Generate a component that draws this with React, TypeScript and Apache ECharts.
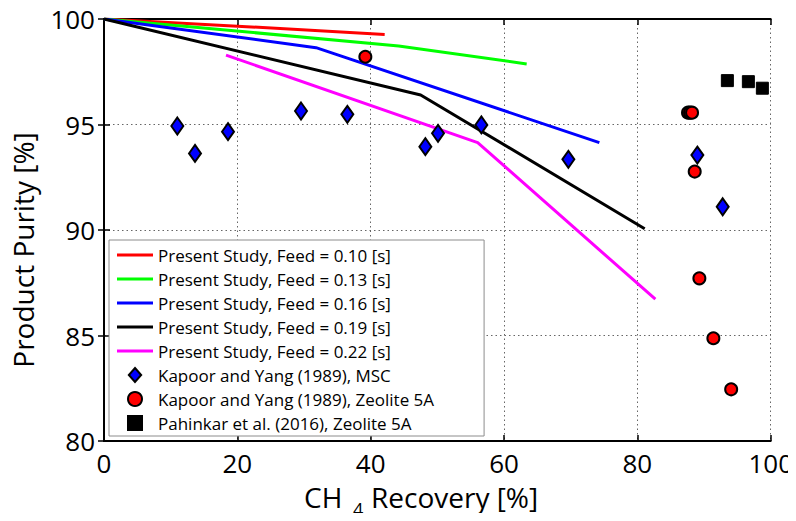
import React, { useEffect, useRef } from "react";
import * as echarts from "echarts";

// ---- data (CH4 recovery [%], product purity [%]) ----
const xTicks = [0, 20, 40, 60, 80, 100];
const yTicks = [80, 85, 90, 95, 100];

const feed010 = [[0, 100], [20, 99.66], [42.1, 99.27]];
const feed013 = [[0, 100], [19.9, 99.43], [44.2, 98.72], [63.4, 97.87]];
const feed016 = [[0, 100], [31.8, 98.64], [74.3, 94.14]];
const feed019 = [[0, 100], [47.5, 96.4], [81.1, 90.06]];
const feed022 = [[18.3, 98.29], [56.05, 94.14], [82.7, 86.72]];

const kapoorMSC = [
  [11.0, 94.93], [13.65, 93.63], [18.6, 94.66], [29.55, 95.64], [36.5, 95.48],
  [48.2, 93.95], [50.1, 94.58], [56.6, 94.98], [69.65, 93.35], [89.0, 93.55], [92.8, 91.1],
];
const kapoorZeolite = [
  [39.2, 98.21], [87.6, 95.56], [87.9, 95.56], [88.2, 95.56], [88.6, 92.77],
  [89.3, 87.71], [91.4, 84.87], [94.07, 82.45],
];
const pahinkar = [[93.5, 97.08], [96.65, 97.03], [98.75, 96.72]];

const lineNames = [
  "Present Study, Feed = 0.10 [s]",
  "Present Study, Feed = 0.13 [s]",
  "Present Study, Feed = 0.16 [s]",
  "Present Study, Feed = 0.19 [s]",
  "Present Study, Feed = 0.22 [s]",
];
const lineData = [feed010, feed013, feed016, feed019, feed022];
const lineColors = ["#ff0000", "#00ff00", "#0000ff", "#000000", "#ff00ff"];
const scatterNames = [
  "Kapoor and Yang (1989), MSC",
  "Kapoor and Yang (1989), Zeolite 5A",
  "Pahinkar et al. (2016), Zeolite 5A",
];

const FONT = "'Open Sans', 'Noto Sans', sans-serif";

const ICON_LINE = "path://M0,0H36V3H0Z";
const ICON_DIAMOND = "path://M7.5,0L15,8.5L7.5,17L0,8.5Z";
const ICON_CIRCLE = "circle";
const ICON_SQUARE = "path://M0,0H10V10H0Z";

export default function App() {
  const ref = useRef<HTMLDivElement>(null);

  useEffect(() => {
    if (!ref.current) return;
    const chart = echarts.init(ref.current, undefined, { renderer: "svg" });

    const axisLine = { lineStyle: { color: "#000", width: 2 } };
    const axisTick = { inside: true, length: 6, lineStyle: { color: "#000", width: 1.5 } };
    const split = { show: true, lineStyle: { type: [1.5, 3], color: "#666", width: 1 } };
    const label = { fontSize: 26, fontFamily: FONT, color: "#000", lineHeight: 24 };

    const lineSeries = lineNames.map((name, i) => ({
      name,
      type: "line",
      data: lineData[i],
      symbol: "none",
      lineStyle: { color: lineColors[i], width: 3 },
      itemStyle: { color: lineColors[i] },
      z: 2,
    }));

    chart.setOption({
      animation: false,
      grid: { left: 104, top: 19, right: 23, bottom: 80 },
      xAxis: [
        {
          type: "value", min: 0, max: 100, interval: 20, position: "bottom",
          axisLine, axisTick, axisLabel: { ...label, margin: 10 }, splitLine: split,
        },
        {
          type: "value", min: 0, max: 100, interval: 20, position: "top",
          axisLine, axisTick, axisLabel: { show: false }, splitLine: { show: false },
        },
      ],
      yAxis: [
        {
          type: "value", min: 80, max: 100, interval: 5, position: "left",
          axisLine, axisTick, axisLabel: { ...label, margin: 9 }, splitLine: split,
        },
        {
          type: "value", min: 80, max: 100, interval: 5, position: "right",
          axisLine, axisTick, axisLabel: { show: false }, splitLine: { show: false },
        },
      ],
      legend: {
        orient: "vertical",
        left: 109,
        top: 240,
        padding: [5, 50, 3, 8],
        itemGap: 4,
        itemWidth: 36,
        itemHeight: 14,
        symbolKeepAspect: true,
        backgroundColor: "#fff",
        borderColor: "#8c8c8c",
        borderWidth: 1,
        borderRadius: 0,
        textStyle: { fontSize: 17, fontFamily: FONT, color: "#000", lineHeight: 20 },
        data: [
          ...lineNames.map((name) => ({ name, icon: ICON_LINE })),
          { name: scatterNames[0], icon: ICON_DIAMOND },
          { name: scatterNames[1], icon: ICON_CIRCLE },
          { name: scatterNames[2], icon: ICON_SQUARE },
        ],
      },
      series: [
        ...lineSeries,
        {
          name: scatterNames[0],
          type: "scatter",
          data: kapoorMSC,
          symbol: "diamond",
          symbolSize: [12, 17],
          itemStyle: { color: "#0000ff", borderColor: "#000", borderWidth: 2, opacity: 1 },
          z: 3,
        },
        {
          name: scatterNames[1],
          type: "scatter",
          data: kapoorZeolite,
          symbol: "circle",
          symbolSize: 12,
          itemStyle: { color: "#ff0000", borderColor: "#000", borderWidth: 2, opacity: 1 },
          z: 3,
        },
        {
          name: scatterNames[2],
          type: "scatter",
          data: pahinkar,
          symbol: "rect",
          symbolSize: 12,
          itemStyle: { color: "#000", borderColor: "#000", borderWidth: 1, opacity: 1 },
          z: 3,
        },
      ],
      graphic: [
        {
          type: "text", x: 23, y: 250, rotation: Math.PI / 2,
          style: { text: "Product Purity [%]", fontSize: 28, fontFamily: FONT, fill: "#000", align: "center", verticalAlign: "middle" },
        },
        {
          type: "text", x: 304, y: 497,
          style: { text: "CH", fontSize: 28, fontFamily: FONT, fill: "#000", align: "left", verticalAlign: "middle" },
        },
        {
          type: "text", x: 353, y: 509,
          style: { text: "4", fontSize: 18, fontFamily: FONT, fill: "#000", align: "left", verticalAlign: "middle" },
        },
        {
          type: "text", x: 371, y: 497,
          style: { text: "Recovery [%]", fontSize: 28, fontFamily: FONT, fill: "#000", align: "left", verticalAlign: "middle" },
        },
      ],
    });

    return () => chart.dispose();
  }, []);

  return <div ref={ref} style={{ width: 796, height: 521, margin: -8 }} />;
}
